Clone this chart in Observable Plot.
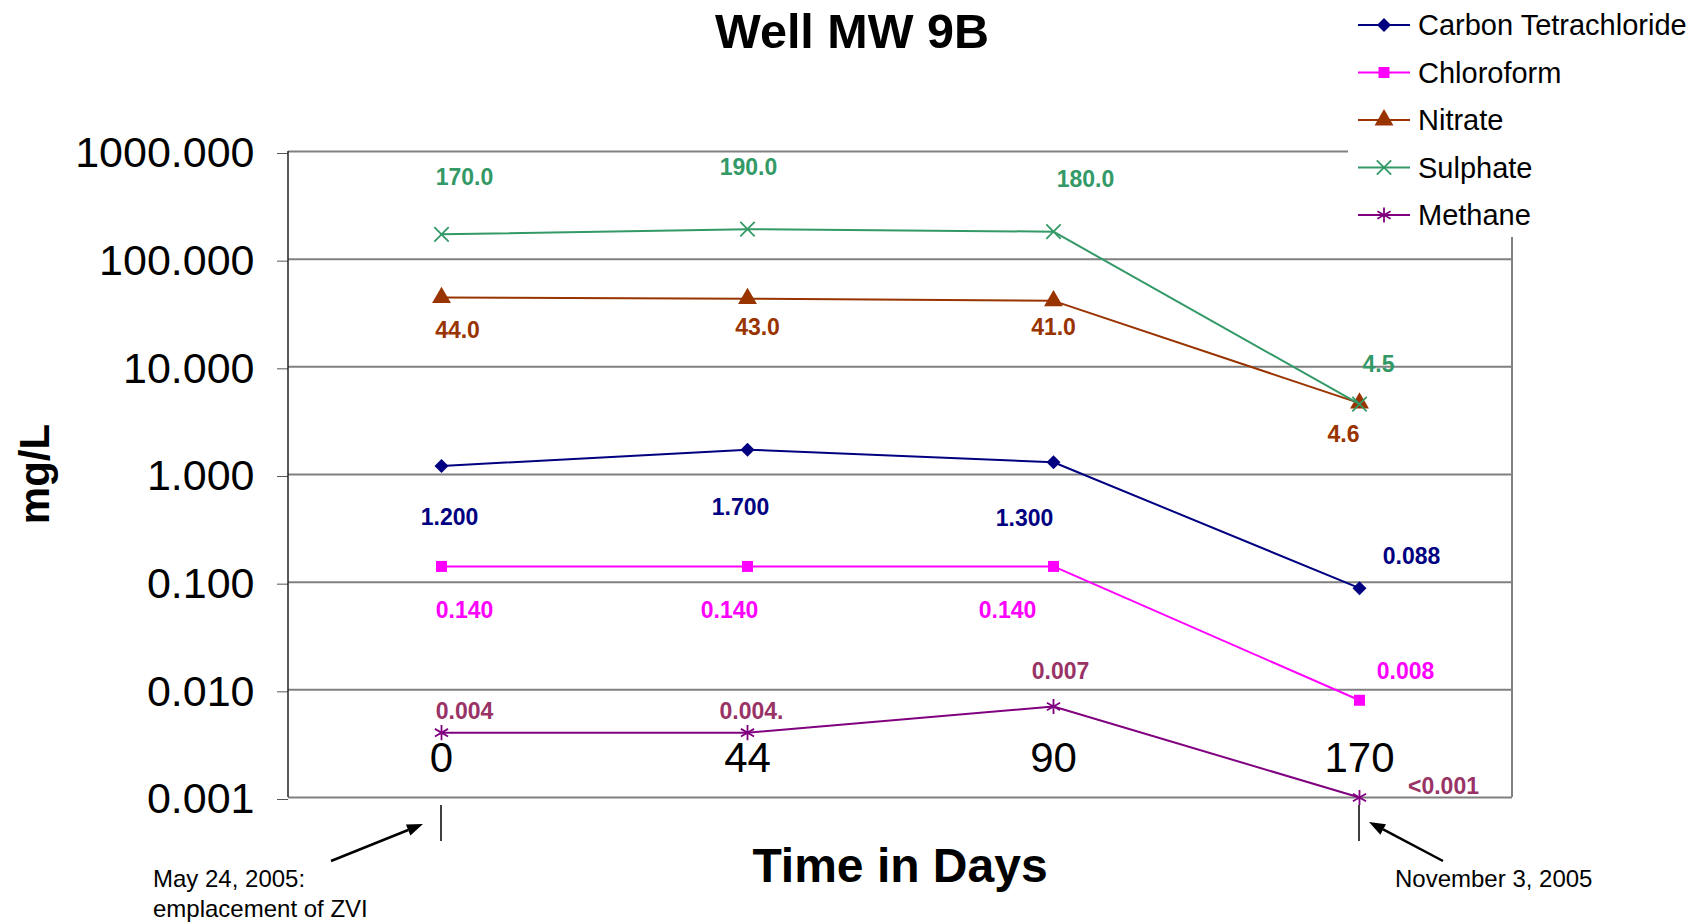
<!DOCTYPE html>
<html><head><meta charset="utf-8">
<script src="https://cdn.jsdelivr.net/npm/d3@7"></script>
<script src="https://cdn.jsdelivr.net/npm/@observablehq/plot@0.6"></script>
<style>
body{margin:0;background:#fff;}
svg{font-family:"Liberation Sans",Arial,Helvetica,sans-serif;}
</style>
</head><body><div id="chart"></div>
<script>
// ---- data ----
const days = ["0", "44", "90", "170"];
const seriesNames = ["Carbon Tetrachloride", "Chloroform", "Nitrate", "Sulphate", "Methane"];
const carbonTet = [1.2, 1.7, 1.3, 0.088];
const chloroform = [0.14, 0.14, 0.14, 0.008];
const nitrate = [44, 43, 41, 4.6];
const sulphate = [170, 190, 180, 4.5];
const methane = [0.004, 0.004, 0.007, 0.001];
const carbonTetLabels = ["1.200", "1.700", "1.300", "0.088"];
const chloroformLabels = ["0.140", "0.140", "0.140", "0.008"];
const nitrateLabels = ["44.0", "43.0", "41.0", "4.6"];
const sulphateLabels = ["170.0", "190.0", "180.0", "4.5"];
const methaneLabels = ["0.004", "0.004.", "0.007", "<0.001"];
const yTicks = [0.001, 0.01, 0.1, 1, 10, 100, 1000];

// ---- layout (label offsets in px, styles) ----
const layout = {
  "Carbon Tetrachloride": {color: "#000080", labelColor: "#000080", symbol: "diamond2", filled: true, r: 6.3,
    offsets: [[8, 52], [-7, 58], [-29, 56], [52, -32]]},
  "Chloroform": {color: "#FF00FF", labelColor: "#FF00FF", symbol: "square", filled: true, r: 6.2,
    offsets: [[23, 44], [-18, 44], [-46, 44], [46, -29]]},
  "Nitrate": {color: "#993300", labelColor: "#993300", symbol: "triangle", filled: true, r: 7,
    offsets: [[16, 33], [10, 29], [0, 27], [-16, 31]]},
  "Sulphate": {color: "#339966", labelColor: "#339966", symbol: "times", filled: false, r: 6.6,
    offsets: [[23, -57], [1, -62], [32, -52], [19, -40]]},
  "Methane": {color: "#800080", labelColor: "#993366", symbol: "asterisk", filled: false, r: 7.2,
    offsets: [[23, -21], [4, -21], [7, -35], [84, -11]]}
};
const seriesValues = [carbonTet, chloroform, nitrate, sulphate, methane];
const seriesLabels = [carbonTetLabels, chloroformLabels, nitrateLabels, sulphateLabels, methaneLabels];

const W = 1696, H = 924;
const mL = 288, mR = 184, mT = 151, mB = 127;

const marks = [
  Plot.ruleY(yTicks, {y: d => d, stroke: "#808080", strokeWidth: 2})
];
seriesNames.forEach((name, si) => {
  const st = layout[name];
  const data = days.map((day, i) => ({day, value: seriesValues[si][i], label: seriesLabels[si][i]}));
  marks.push(Plot.line(data, {x: "day", y: "value", stroke: st.color, strokeWidth: 2}));
  marks.push(Plot.dot(data, st.filled
    ? {x: "day", y: "value", symbol: () => st.symbol, fill: st.color, stroke: "none", r: st.r}
    : {x: "day", y: "value", symbol: () => st.symbol, stroke: st.color, fill: "none", strokeWidth: 1.8, r: st.r}));
  data.forEach((d, i) => {
    marks.push(Plot.text([d], {x: "day", y: "value", text: "label", dx: st.offsets[i][0], dy: st.offsets[i][1],
      fill: st.labelColor, fontSize: 23, fontWeight: "bold"}));
  });
});
marks.push(Plot.text(days, {x: d => d, frameAnchor: "bottom", lineAnchor: "middle", dy: -39, fontSize: 42, fill: "#000"}));
marks.push(Plot.axisY(yTicks, {tickFormat: d3.format(".3f"), fontSize: 43, tickSize: 11, tickPadding: 23,
  label: null, stroke: "#555", fill: "#000", dy: 2}));

const chart = Plot.plot({
  width: W, height: H,
  marginLeft: mL, marginRight: mR, marginTop: mT, marginBottom: mB,
  style: {fontFamily: '"Liberation Sans", Arial, sans-serif', background: "#fff", overflow: "visible"},
  x: {type: "point", domain: days, padding: 0.5, axis: null},
  y: {type: "log", domain: [0.001, 1000], axis: null},
  marks
});
document.getElementById("chart").appendChild(chart);

// ---- decorations ----
const svg = d3.select(chart);
const xs = chart.scale("x"), ys = chart.scale("y");
const yTop = ys.apply(1000), yBot = ys.apply(0.001);
const ff = '"Liberation Sans", Arial, sans-serif';

// right border
svg.append("line").attr("x1", W - mR).attr("x2", W - mR).attr("y1", yTop).attr("y2", yBot)
  .attr("stroke", "#808080").attr("stroke-width", 2);
// left axis line
svg.append("line").attr("x1", mL).attr("x2", mL).attr("y1", yTop).attr("y2", yBot)
  .attr("stroke", "#222").attr("stroke-width", 1.5);

// legend
const lg = svg.append("g").attr("text-anchor", "start");
lg.append("rect").attr("x", 1348).attr("y", 0).attr("width", W - 1348).attr("height", 237).attr("fill", "#fff");
const symMap = {diamond2: d3.symbolDiamond2, square: d3.symbolSquare, triangle: d3.symbolTriangle,
  times: d3.symbolTimes, asterisk: d3.symbolAsterisk};
seriesNames.forEach((name, i) => {
  const st = layout[name];
  const y = 25 + i * 47.5;
  lg.append("line").attr("x1", 1358).attr("x2", 1410).attr("y1", y).attr("y2", y)
    .attr("stroke", st.color).attr("stroke-width", 2);
  const p = lg.append("path").attr("transform", `translate(1384,${y})`)
    .attr("d", d3.symbol(symMap[st.symbol], Math.PI * st.r * st.r)());
  if (st.filled) p.attr("fill", st.color); else p.attr("fill", "none").attr("stroke", st.color).attr("stroke-width", 1.8);
  lg.append("text").attr("x", 1418).attr("y", y).attr("dy", "0.35em").attr("font-size", 29)
    .attr("text-anchor", "start").attr("font-family", ff).attr("fill", "#000").text(name);
});

// title
svg.append("text").attr("x", 852).attr("y", 48).attr("text-anchor", "middle").attr("font-size", 48.5)
  .attr("font-weight", "bold").attr("font-family", ff).text("Well MW 9B");
// x axis title
svg.append("text").attr("x", (mL + W - mR) / 2).attr("y", 882).attr("text-anchor", "middle").attr("font-size", 48)
  .attr("font-weight", "bold").attr("font-family", ff).text("Time in Days");
// y axis title
svg.append("text").attr("transform", `translate(49,474) rotate(-90)`).attr("text-anchor", "middle")
  .attr("font-size", 42).attr("font-weight", "bold").attr("font-family", ff).text("mg/L");

// annotations
function arrow(x1, y1, x2, y2) {
  const a = Math.atan2(y2 - y1, x2 - x1), L = 16, w = 6;
  const bx = x2 - L * Math.cos(a), by = y2 - L * Math.sin(a);
  svg.append("line").attr("x1", x1).attr("y1", y1).attr("x2", bx).attr("y2", by)
    .attr("stroke", "#000").attr("stroke-width", 2.5);
  const px = -Math.sin(a) * w, py = Math.cos(a) * w;
  svg.append("path").attr("d", `M${x2},${y2}L${bx + px},${by + py}L${bx - px},${by - py}Z`).attr("fill", "#000");
}
const x0 = xs.apply("0"), x170 = xs.apply("170");
[x0, x170].forEach(x => svg.append("line").attr("x1", x).attr("x2", x).attr("y1", yBot + 8).attr("y2", yBot + 44)
  .attr("stroke", "#000").attr("stroke-width", 1.5));
arrow(331, 861, x0 - 18, 824);
arrow(1443, 861, x170 + 10, 822);
const ann = svg.append("text").attr("font-size", 24).attr("font-family", ff).attr("fill", "#000").attr("text-anchor", "start");
ann.append("tspan").attr("x", 153).attr("y", 887).text("May 24, 2005:");
ann.append("tspan").attr("x", 153).attr("y", 917).text("emplacement of ZVI");
svg.append("text").attr("x", 1395).attr("y", 887).attr("font-size", 24).attr("font-family", ff)
  .attr("text-anchor", "start").text("November 3, 2005");
</script>
</body></html>
